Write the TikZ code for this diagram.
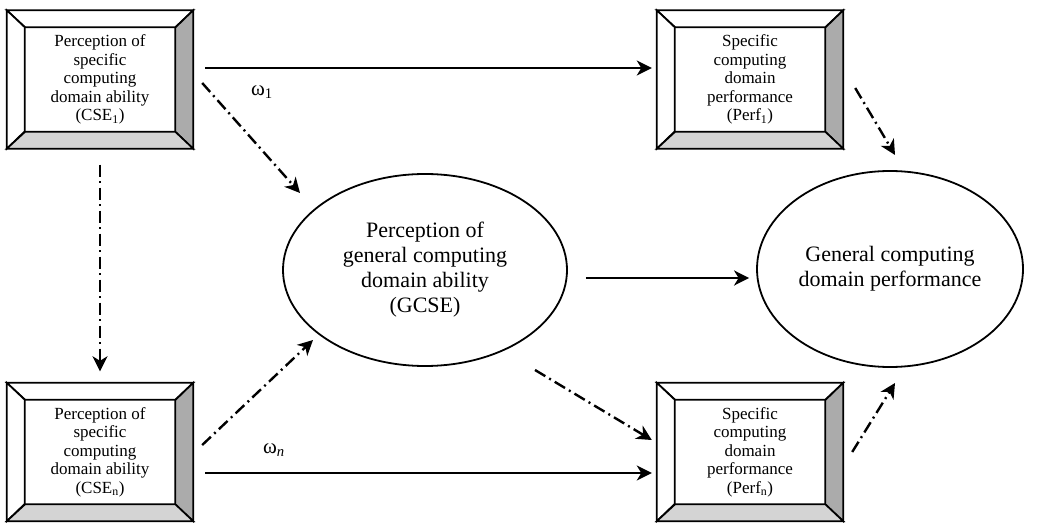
\documentclass[tikz,border=0pt]{standalone}
\usepackage{fontspec}
\setmainfont{Liberation Serif}
\usetikzlibrary{arrows.meta,shapes.geometric}

\tikzset{
  outerbox/.style={rectangle, minimum width=186pt, minimum height=138pt, inner sep=0pt},
  innerbox/.style={rectangle, minimum width=150pt, minimum height=104pt, inner sep=0pt,
    align=center, font=\fontsize{17}{18.5}\selectfont},
  bevel/.style={draw=black, line width=1.7pt, line join=miter},
  oval/.style={ellipse, draw=black, line width=1.8pt, inner sep=0pt, align=center,
    font=\fontsize{22}{25}\selectfont},
  tip/.style={-{Stealth[length=15pt, width=15pt, inset=4.5pt]}},
  solidarrow/.style={tip, line width=2.8pt},
  dasharrow/.style={tip, line width=2.4pt, dash pattern=on 12pt off 4.5pt on 2pt off 4.5pt},
  weight/.style={font=\fontsize{21}{22}\selectfont, inner sep=0pt},
}

% bevelled box: #1 name, #2 centre, #3 text
\newcommand{\bevelbox}[3]{%
  \node[outerbox] (#1) at (#2) {};
  \filldraw[bevel, fill=white] (#1.north west) -- (#1.north east) -- ++(-18,-17) -- ++(-150,0) -- cycle;
  \filldraw[bevel, fill=white] (#1.north west) -- ++(18,-17) -- ++(0,-104) -- (#1.south west) -- cycle;
  \filldraw[bevel, fill=black!33] (#1.north east) -- (#1.south east) -- ++(-18,17) -- ++(0,104) -- cycle;
  \filldraw[bevel, fill=black!17] (#1.south west) -- (#1.south east) -- ++(-18,17) -- ++(-150,0) -- cycle;
  \node[innerbox] (#1-in) at (#2) {#3};
}

\begin{document}
\begin{tikzpicture}[x=1pt, y=1pt]
  \useasboundingbox (0,0) rectangle (1040,522);

  \bevelbox{cse1}{100,442.5}{Perception of\\specific\\computing\\domain ability\\(CSE\textsubscript{1})}
  \bevelbox{perf1}{750,442.5}{Specific\\computing\\domain\\performance\\(Perf\textsubscript{1})}
  \bevelbox{csen}{100,70}{Perception of\\specific\\computing\\domain ability\\(CSE\textsubscript{n})}
  \bevelbox{perfn}{750,70}{Specific\\computing\\domain\\performance\\(Perf\textsubscript{n})}

  \node[oval, minimum width=284pt, minimum height=192pt] (gcse) at (425,252)
    {Perception of\\general computing\\domain ability\\(GCSE)};
  \node[oval, minimum width=266pt, minimum height=196pt] (gperf) at (890,253)
    {General computing\\domain performance};

  % connectors
  \draw[solidarrow] ([shift={(12,11.5)}]cse1.east) -- ([shift={(-5,11.5)}]perf1.west);
  \draw[solidarrow] ([shift={(12,-21)}]csen.east) -- ([shift={(-5,-21)}]perfn.west);
  \draw[solidarrow] ([shift={(18,-8)}]gcse.east) -- ([shift={(-7,-9)}]gperf.west);

  \draw[dasharrow] ([shift={(9,-3.5)}]cse1.east) -- ([shift={(-125,77)}]gcse.center);
  \draw[dasharrow] ([shift={(0,-16)}]cse1.south) -- ([shift={(0,11.5)}]csen.north);
  \draw[dasharrow] ([shift={(9,7)}]csen.east) -- ([shift={(-112,-70)}]gcse.center);
  \draw[dasharrow] ([shift={(110,-100)}]gcse.center) -- ([shift={(-5,12)}]perfn.west);
  \draw[dasharrow] ([shift={(12,-8.5)}]perf1.east) -- ([shift={(5,114)}]gperf.center);
  \draw[dasharrow] ([shift={(9,0)}]perfn.east) -- ([shift={(5,-114)}]gperf.center);

  % path weights
  \node[weight] (w1) at (262,430) {ω\textsubscript{1}};
  \node[weight] (wn) at (274,72) {ω\textsubscript{\textit{n}}};
\end{tikzpicture}
\end{document}
